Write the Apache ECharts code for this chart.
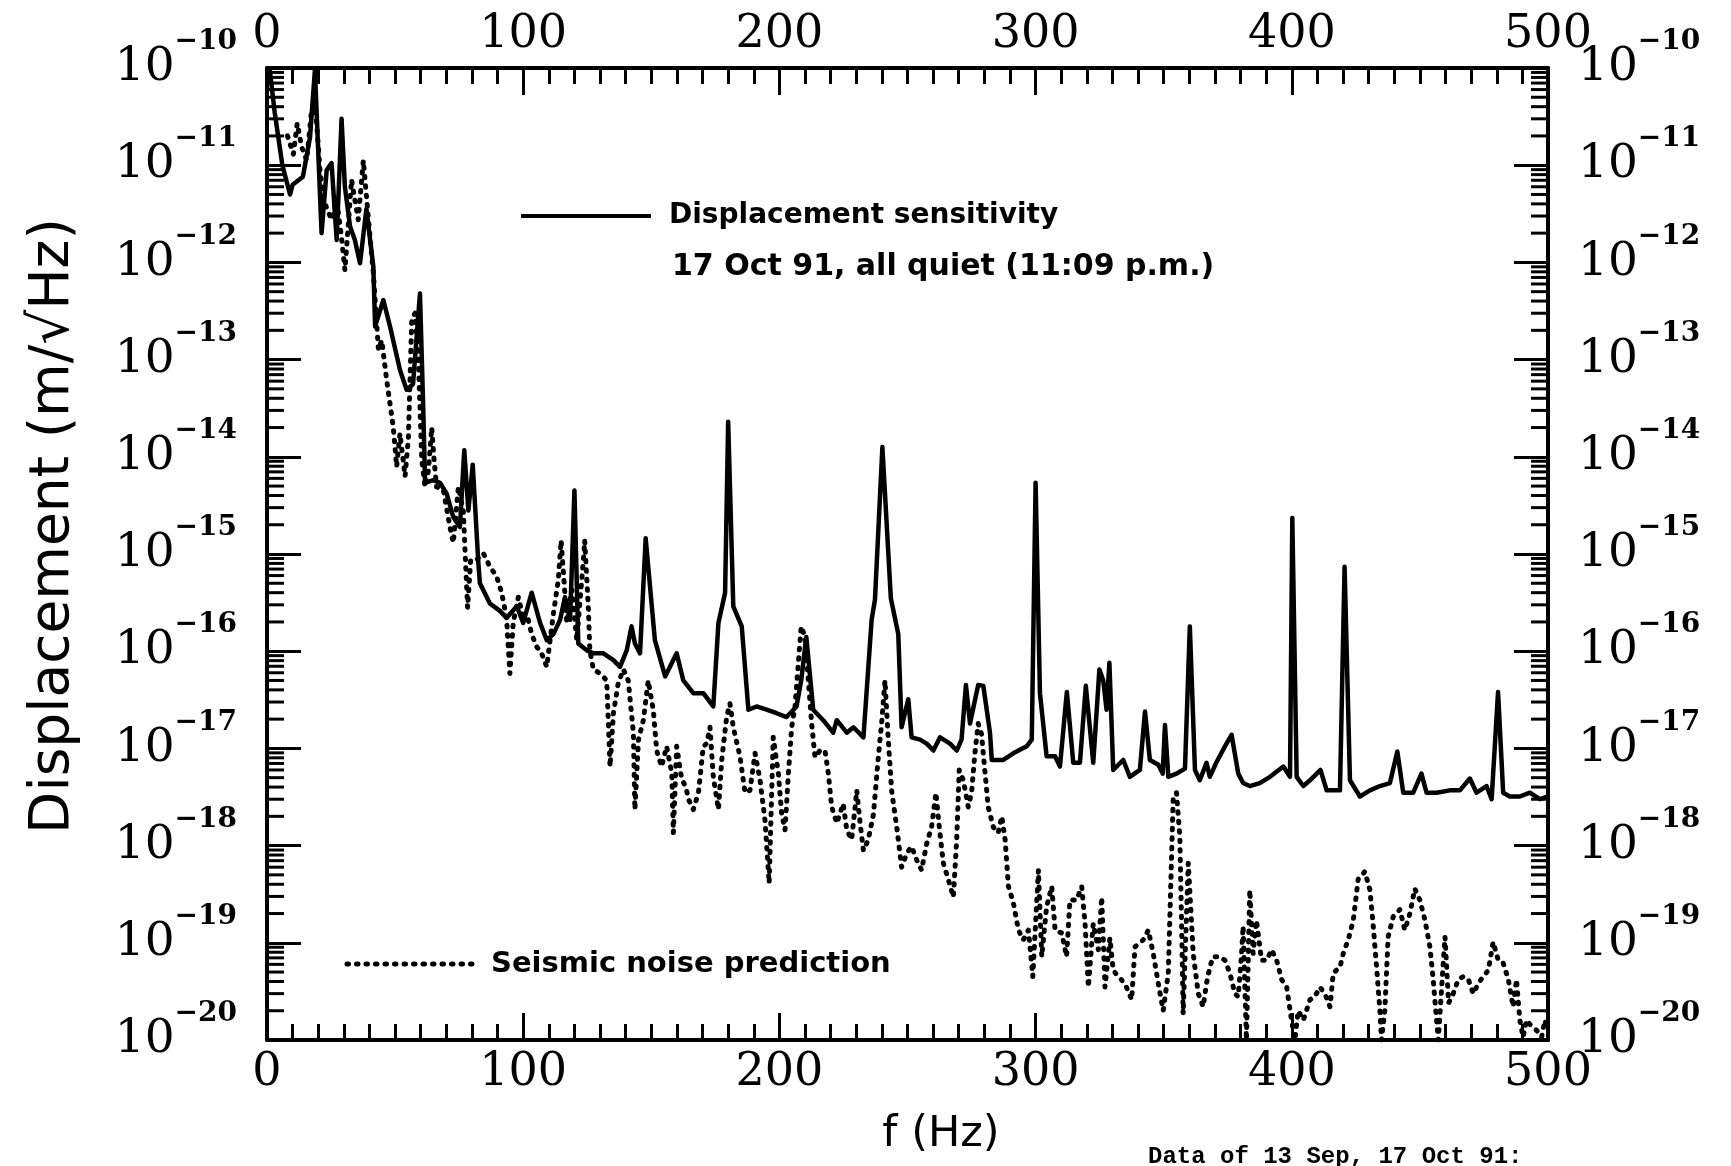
<!DOCTYPE html>
<html>
<head>
<meta charset="utf-8">
<script src="https://cdn.jsdelivr.net/npm/echarts@6/dist/echarts.min.js"></script>
<style>
html,body{margin:0;padding:0;background:#fff;}
#chart{width:1731px;height:1166px;}
</style>
</head>
<body>
<div id="chart"></div>
<script>
// Frequency (Hz) and displacement (m/sqrt(Hz)).
const sensitivity = [
[1,1e-10],[3,3.5e-11],[6,1e-11],[9,5e-12],[10,6.3e-12],[14,7.6e-12],[16.8,1.95e-11],[18.7,9.5e-11],[21.3,2e-12],[23.3,8.9e-12],
[25.2,1.05e-11],[27.2,1.7e-12],[29.1,3e-11],[30.4,6e-12],[32.4,2.35e-12],[34.3,1.7e-12],[36.3,9.8e-13],[38.8,3.55e-12],[41.5,9.1e-13],[42.2,2.2e-13],
[45.4,4.1e-13],[48,2.2e-13],[51.9,7.8e-14],[54.5,4.9e-14],[57,5.6e-14],[59.7,4.8e-13],[61,3e-14],[61.7,5.4e-15],[64.9,5.75e-15],[67.5,5.4e-15],
[70.1,4.2e-15],[72.7,2.4e-15],[75.3,1.9e-15],[77,1.17e-14],[78.6,2.8e-15],[80.3,8.3e-15],[82.5,8e-16],[83.1,5e-16],[87,3.1e-16],[90.9,2.6e-16],
[93.5,2.2e-16],[97.5,2.9e-16],[100,1.95e-16],[103.3,4e-16],[106.6,1.95e-16],[109.2,1.3e-16],[111.8,1.5e-16],[114.4,2.1e-16],[116.3,3.6e-16],[118.3,2.1e-16],
[120,4.5e-15],[121.5,1.2e-16],[124.8,1.02e-16],[127.4,9.5e-17],[131.3,9.5e-17],[135.2,8.1e-17],[137.8,6.9e-17],[140.4,1.02e-16],[142.3,1.8e-16],[143.6,1.2e-16],
[145.6,9.5e-17],[147.8,1.45e-15],[151.4,1.3e-16],[155.4,5.5e-17],[159.9,9.5e-17],[162.5,5e-17],[166.4,3.7e-17],[170.3,3.7e-17],[174.2,2.7e-17],[176.2,1.95e-16],
[178.8,4e-16],[180,2.3e-14],[182,2.9e-16],[185.3,1.8e-16],[187.9,2.5e-17],[191.1,2.7e-17],[195,2.5e-17],[198.9,2.3e-17],[202.8,2.1e-17],[206.7,2.7e-17],
[208.5,5e-17],[210.5,1.4e-16],[213.2,2.5e-17],[217.1,1.95e-17],[221,1.45e-17],[222.4,1.95e-17],[226.3,1.45e-17],[228.9,1.65e-17],[232.8,1.3e-17],[236,2.1e-16],
[237.3,3.4e-16],[240.2,1.26e-14],[243.5,3.5e-16],[246.4,1.5e-16],[247.7,1.65e-17],[250.3,3.2e-17],[251.6,1.3e-17],[254.9,1.23e-17],[257.5,1.12e-17],[260.1,9.5e-18],
[262.7,1.3e-17],[266.6,1.12e-17],[269.2,9.5e-18],[271.1,1.23e-17],[272.8,4.5e-17],[274.4,1.8e-17],[277.6,4.5e-17],[279.6,4.4e-17],[282.2,1.45e-17],[282.9,7.6e-18],
[287.4,7.6e-18],[291.3,8.9e-18],[296.5,1.05e-17],[298.5,1.23e-17],[300,5.4e-15],[301.7,3.7e-17],[304.3,8.3e-18],[307.6,8.3e-18],[309.5,6.5e-18],[312.2,3.8e-17],
[314.7,7.1e-18],[317.3,7.1e-18],[319.6,4.4e-17],[322.5,7.1e-18],[324.9,6.5e-17],[326.4,5e-17],[327.7,2.5e-17],[328.8,7.6e-17],[330.3,6e-18],[334.2,7.6e-18],
[336.8,5.1e-18],[340.7,6e-18],[342.7,2.4e-17],[344.6,7.6e-18],[347.9,6.8e-18],[349.6,5.5e-18],[350.5,1.74e-17],[351.8,5.1e-18],[355,5.5e-18],[358.3,6.2e-18],
[360.2,1.8e-16],[362.2,6e-18],[364.1,4.7e-18],[366.7,7.1e-18],[368,5.1e-18],[370.6,7.2e-18],[373.9,1.05e-17],[376.5,1.38e-17],[379.1,5.5e-18],[381,4.4e-18],
[383.6,4.1e-18],[387.5,4.4e-18],[391.5,5.1e-18],[396.7,6.5e-18],[399.3,5.1e-18],[400.2,2.35e-15],[401.9,5.1e-18],[404.5,4.1e-18],[407.1,4.7e-18],[411.2,6e-18],
[413.6,3.7e-18],[418.8,3.7e-18],[420.6,7.4e-16],[422.7,4.7e-18],[426.6,3.2e-18],[430.5,3.7e-18],[434.4,4.1e-18],[438.3,4.4e-18],[441.2,9.3e-18],[443.5,3.5e-18],
[447.4,3.5e-18],[450.6,5.5e-18],[452.6,3.5e-18],[456.5,3.5e-18],[461.7,3.7e-18],[465.6,3.7e-18],[469.5,4.9e-18],[472.1,3.5e-18],[476,4.1e-18],[478,3e-18],
[480.5,3.8e-17],[482.5,3.5e-18],[485.1,3.2e-18],[489,3.2e-18],[492.9,3.5e-18],[496.8,3e-18],[500,3.2e-18]
];

const seismic = [
[8,2e-11],[10.3,1.3e-11],[11.8,2.7e-11],[13.5,1.55e-11],[15.5,1.12e-11],[17.4,3.7e-11],[18.7,4.7e-11],[20.7,8.9e-12],[22,4.4e-12],[25.2,2.75e-12],
[27.2,4.4e-12],[29.1,1.8e-12],[30.4,8.3e-13],[31.7,2.35e-12],[33,7.1e-12],[34.3,4.4e-12],[35.6,2.75e-12],[37.6,1.12e-11],[39.6,2.75e-12],[41.5,7.8e-13],
[43.5,1.26e-13],[44.8,1.58e-13],[46.7,6.2e-14],[49.3,2e-14],[50.6,7.9e-15],[51.9,1.74e-14],[53.9,6.3e-15],[55.2,1.6e-14],[56.5,2.6e-13],[57.8,3e-13],
[59.1,1e-13],[60.4,9.3e-15],[61.7,4.9e-15],[63,7.2e-15],[64.3,2e-14],[65.2,9.3e-15],[66.2,4.9e-15],[68.8,4.6e-15],[71.4,1.9e-15],[72.7,1.3e-15],
[74.7,4.9e-15],[76.6,2.8e-15],[78.3,2.8e-16],[79.5,8.7e-16],[81.8,8.7e-16],[84.4,1.02e-15],[87,7.4e-16],[89.6,5.9e-16],[91.6,4e-16],[93.5,2.2e-16],
[94.8,5.9e-17],[96.1,1.95e-16],[98.1,3.6e-16],[100,2.2e-16],[102,2.1e-16],[103.3,1.5e-16],[105.2,1.12e-16],[107.2,9.5e-17],[109.2,6.9e-17],[110.5,1.3e-16],
[111.8,2.45e-16],[113.7,5.4e-16],[114.8,1.38e-15],[116,5e-16],[117,1.95e-16],[119,4.3e-16],[120.9,1.3e-16],[123.5,8.7e-16],[124,1.38e-15],[125.4,2.9e-16],
[126,1.02e-16],[127.4,6.5e-17],[130,5.9e-17],[132.6,5e-17],[133.9,6.5e-18],[135.2,2.3e-17],[137.1,4.7e-17],[139.1,6.5e-17],[141,5e-17],[143,1.45e-17],
[143.6,2.35e-18],[145,1.23e-17],[146.9,1.95e-17],[148.8,5e-17],[150.8,2.45e-17],[152.1,9.5e-18],[154,6.5e-18],[156,1.05e-17],[158,5.5e-18],[158.6,1.35e-18],
[159.9,1.05e-17],[161.9,4.8e-18],[163.5,4e-18],[164.5,3e-18],[166.4,2.35e-18],[168.4,3.5e-18],[170.3,1.05e-17],[171.6,1.12e-17],[172.9,1.65e-17],[174.2,5.1e-18],
[176.2,2.35e-18],[177.5,7.6e-18],[179.4,2.1e-17],[180.7,2.9e-17],[182,1.65e-17],[184.6,8.3e-18],[186.6,3.5e-18],[188.5,3.7e-18],[190.5,8.9e-18],[192.4,4.8e-18],
[194.4,1.8e-18],[196,4.1e-19],[197.6,1.3e-17],[199.6,5.5e-18],[200.9,2.1e-18],[202.2,1.45e-18],[203.5,5.5e-18],[204.8,1.65e-17],[206.1,2.7e-17],[208.5,1.8e-16],
[210,1.4e-16],[211.3,5e-17],[212.6,1.8e-17],[213.9,8.1e-18],[215.8,9.5e-18],[217.8,9.5e-18],[219.1,5.5e-18],[220.4,2.5e-18],[222.4,1.7e-18],[224.9,2.7e-18],
[226.3,1.45e-18],[228.2,1.15e-18],[230.2,3.7e-18],[231.5,1.7e-18],[232.8,8.9e-19],[234.7,1.15e-18],[236.7,2.1e-18],[238.6,8.1e-18],[239.9,1.8e-17],[241.2,5e-17],
[242.5,1.23e-17],[243.8,3.7e-18],[245.8,1.55e-18],[247.7,6e-19],[249.7,8.3e-19],[251.6,9.8e-19],[253.6,7.1e-19],[255.5,5.6e-19],[257.5,1.05e-18],[259.4,1.55e-18],
[261.1,3.5e-18],[262.4,1.55e-18],[264,6.6e-19],[265.9,4.5e-19],[267.9,2.95e-19],[269.2,1.15e-18],[270.2,6e-18],[271.8,4.7e-18],[273.7,2.5e-18],[275,3.5e-18],
[276.3,8.9e-18],[277.6,1.8e-17],[278.9,1.4e-17],[280.3,5.5e-18],[281.5,2.5e-18],[283.5,1.55e-18],[285.4,1.35e-18],[286.8,2e-18],[288.1,1.15e-18],[289.4,3.8e-19],
[291.3,2.6e-19],[293.3,1.35e-19],[295.2,1.07e-19],[297.2,1.35e-19],[298.9,4.5e-20],[301.1,5.6e-19],[302.4,7.2e-20],[304.3,2.35e-19],[306.3,3.8e-19],[307.6,1.35e-19],
[310.2,1.26e-19],[312.1,7.2e-20],[313.4,2.75e-19],[316,2.75e-19],[318,3.8e-19],[319.3,1.58e-19],[320.6,3.5e-20],[322.5,1.58e-19],[324.5,8.5e-20],[325.8,2.95e-19],
[327.1,3.5e-20],[329,1.12e-19],[330.3,5.2e-20],[332.3,4.5e-20],[334.9,3.8e-20],[337.5,2.6e-20],[338.8,9.1e-20],[342,1.07e-19],[344,1.35e-19],[345.9,7.8e-20],
[347.9,3.8e-20],[349.8,2e-20],[351.8,4.9e-20],[353.7,3e-18],[355,3.5e-18],[356.3,1.23e-18],[357,1.48e-19],[357.6,1.86e-20],[359.6,6.6e-19],[361.5,7.8e-20],
[363.5,3e-20],[365.4,2.2e-20],[366.7,3.8e-20],[368,5.6e-20],[369.3,7.2e-20],[371.9,7.2e-20],[373.9,6.6e-20],[375.8,4.9e-20],[377.8,3e-20],[379.1,2.8e-20],
[380.4,7.8e-20],[381,1.48e-19],[382.3,1e-20],[383.6,3.5e-19],[384.9,7.8e-20],[386.2,1.7e-19],[388.2,6.6e-20],[390.2,6.6e-20],[392.1,8.5e-20],[394.1,6.6e-20],
[396,4.2e-20],[398,3.5e-20],[399.9,1.6e-20],[401.2,1e-20],[402.5,2e-20],[404.5,1.6e-20],[407.1,2.6e-20],[409,2.8e-20],[411,3.5e-20],[412.9,3e-20],
[414.9,2.2e-20],[416.2,4.9e-20],[418.8,5.6e-20],[420.1,7.8e-20],[422,1.07e-19],[424,1.7e-19],[425.9,4.5e-19],[428.5,5.4e-19],[430.5,3.5e-19],[431.8,1.48e-19],
[433.1,5.6e-20],[434.4,2e-20],[435,1e-20],[436.3,2e-20],[437.6,1.15e-19],[439.6,1.86e-19],[442.2,2.2e-19],[444.1,1.35e-19],[446.1,2e-19],[448,3.6e-19],
[450,2.75e-19],[452,1.7e-19],[453.9,9.1e-20],[455.2,4.2e-20],[456.5,1.6e-20],[457.2,1e-20],[458.5,3.5e-20],[459.8,1.15e-19],[461.2,2.4e-20],[463,3e-20],
[465,4.2e-20],[466.9,4.5e-20],[468.9,4.2e-20],[470.8,3e-20],[472.8,3.8e-20],[474.7,4.5e-20],[476.7,5.2e-20],[478.6,1.02e-19],[480.6,6.6e-20],[482.5,6.2e-20],
[484.5,4.2e-20],[486.4,2.2e-20],[487.7,4.2e-20],[489,1.6e-20],[490.3,1.07e-20],[491.6,1.6e-20],[493.6,1.38e-20],[495.5,1.26e-20],[497.5,1.07e-20],[498.8,1.6e-20],
[500,1.26e-20]
];

const xTicks = [0, 100, 200, 300, 400, 500];
const yMin = 1e-20, yMax = 1e-10;

// minor tick positions of the log axis (2..9 x each decade)
const minorY = [];
for (let e = -20; e < -10; e++) {
  for (let m = 2; m <= 9; m++) minorY.push([0, m * Math.pow(10, e)]);
}

const serif = 'DejaVu Serif';
function yLabel(v) {
  const e = Math.round(Math.log10(v));
  return '{a|10}{b|\u2212' + Math.abs(e) + '}';
}
const yRich = {
  a: { fontFamily: serif, fontSize: 47, color: '#000', lineHeight: 80 },
  b: { fontFamily: serif, fontSize: 28, fontWeight: 'bold', color: '#000', lineHeight: 28, verticalAlign: 'top' }
};

function xAxisCfg(pos) {
  return {
    type: 'value', position: pos, min: xTicks[0], max: xTicks[xTicks.length - 1], interval: 100,
    axisLine: { show: true, onZero: false, lineStyle: { color: '#000', width: 4 } },
    axisTick: { show: true, inside: true, length: 27, lineStyle: { color: '#000', width: 3 } },
    minorTick: { show: true, splitNumber: 10, length: 16, lineStyle: { color: '#000', width: 3 } },
    axisLabel: { show: true, margin: 10, fontFamily: serif, fontSize: 46, color: '#000' },
    splitLine: { show: false }, minorSplitLine: { show: false }
  };
}
function yAxisCfg(pos) {
  return {
    type: 'log', logBase: 10, position: pos, min: yMin, max: yMax, interval: 1,
    axisLine: { show: true, onZero: false, lineStyle: { color: '#000', width: 4 } },
    axisTick: { show: true, inside: true, length: 34, lineStyle: { color: '#000', width: 3 } },
    axisLabel: { show: true, margin: 30, formatter: yLabel, rich: yRich, color: '#000' },
    splitLine: { show: false }
  };
}

const dotted = [1.5, 8];

const chart = echarts.init(document.getElementById('chart'), null, { renderer: 'canvas' });
chart.setOption({
  backgroundColor: '#fff',
  animation: false,
  grid: { left: 267, right: 183, top: 68, bottom: 126, containLabel: false },
  xAxis: [xAxisCfg('bottom'), xAxisCfg('top')],
  yAxis: [yAxisCfg('left'), yAxisCfg('right')],
  series: [
    {
      name: 'Seismic noise prediction', type: 'line', data: seismic, showSymbol: false, symbol: 'none',
      lineStyle: { color: '#000', width: 5, type: dotted, cap: 'round', join: 'round' }, z: 3
    },
    {
      name: 'Displacement sensitivity', type: 'line', data: sensitivity, showSymbol: false, symbol: 'none',
      lineStyle: { color: '#000', width: 4.5, join: 'round' }, z: 4
    },
    {
      type: 'custom', data: minorY, silent: true, clip: false, z: 5,
      renderItem: function (params, api) {
        const v = api.value(1);
        const pl = api.coord([xTicks[0], v]);
        const pr = api.coord([xTicks[xTicks.length - 1], v]);
        const st = { stroke: '#000', lineWidth: 3 };
        return { type: 'group', children: [
          { type: 'line', shape: { x1: pl[0], y1: pl[1], x2: pl[0] + 17, y2: pl[1] }, style: st },
          { type: 'line', shape: { x1: pr[0] - 17, y1: pr[1], x2: pr[0], y2: pr[1] }, style: st }
        ]};
      }
    }
  ],
  graphic: [
    { type: 'text', x: 54, y: 526, rotation: Math.PI / 2, style: { text: 'Displacement (m/\u221AHz)', fontFamily: 'DejaVu Sans', fontSize: 55, fill: '#000', align: 'center', verticalAlign: 'middle' } },
    { type: 'text', x: 941, y: 1135, style: { text: 'f (Hz)', fontFamily: 'DejaVu Sans', fontSize: 43, fill: '#000', align: 'center', verticalAlign: 'middle' } },
    { type: 'line', shape: { x1: 521, y1: 216, x2: 651, y2: 216 }, style: { stroke: '#000', lineWidth: 4 } },
    { type: 'text', x: 669, y: 216, style: { text: 'Displacement sensitivity', fontFamily: 'DejaVu Sans', fontWeight: 'bold', fontSize: 28, fill: '#000', align: 'left', verticalAlign: 'middle' } },
    { type: 'text', x: 672, y: 267, style: { text: '17 Oct 91, all quiet (11:09 p.m.)', fontFamily: 'DejaVu Sans', fontWeight: 'bold', fontSize: 30, fill: '#000', align: 'left', verticalAlign: 'middle' } },
    { type: 'line', shape: { x1: 347, y1: 964, x2: 476, y2: 964 }, style: { stroke: '#000', lineWidth: 5, lineDash: dotted, lineCap: 'round' } },
    { type: 'text', x: 491, y: 964, style: { text: 'Seismic noise prediction', fontFamily: 'DejaVu Sans', fontWeight: 'bold', fontSize: 29, fill: '#000', align: 'left', verticalAlign: 'middle' } },
    { type: 'text', x: 1148, y: 1157, style: { text: 'Data of 13 Sep, 17 Oct 91:', fontFamily: 'Liberation Mono', fontWeight: 'bold', fontSize: 24, fill: '#000', align: 'left', verticalAlign: 'middle' } }
  ]
});
</script>
</body>
</html>
